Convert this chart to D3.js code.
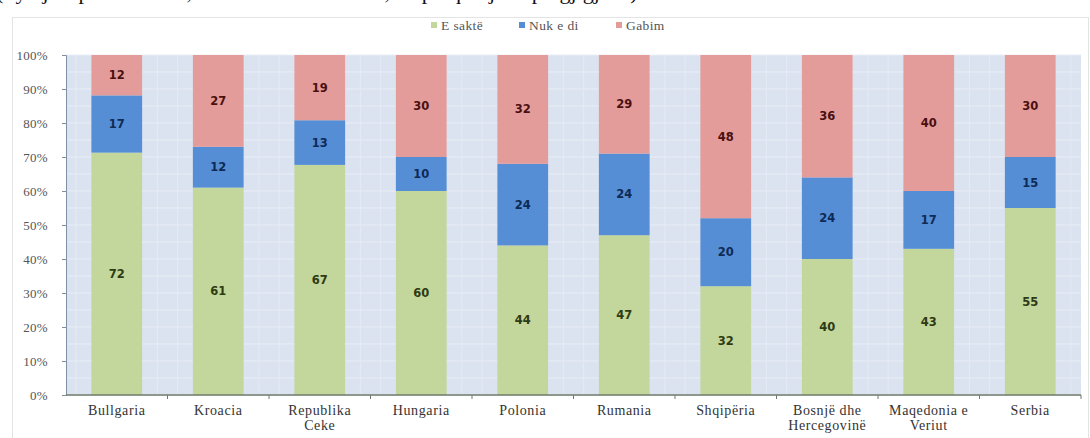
<!DOCTYPE html>
<html>
<head>
<meta charset="utf-8">
<script src="https://cdn.jsdelivr.net/npm/d3@7"></script>
<style>
  body { margin: 0; background: #fff; }
  svg { display: block; }
</style>
</head>
<body>
<div id="chart"></div>
<script>
// data
var categories = ['Bullgaria', 'Kroacia', 'Republika Ceke', 'Hungaria', 'Polonia',
  'Rumania', 'Shqipëria', 'Bosnjë dhe Hercegovinë', 'Maqedonia e Veriut', 'Serbia'];
var labelLines = [['Bullgaria'], ['Kroacia'], ['Republika', 'Ceke'], ['Hungaria'], ['Polonia'],
  ['Rumania'], ['Shqipëria'], ['Bosnjë dhe', 'Hercegovinë'], ['Maqedonia e', 'Veriut'], ['Serbia']];
var seriesNames = ['E saktë', 'Nuk e di', 'Gabim'];
var correct = [72, 61, 67, 60, 44, 47, 32, 40, 43, 55];
var dontKnow = [17, 12, 13, 10, 24, 24, 20, 24, 17, 15];
var wrong = [12, 27, 19, 30, 32, 29, 48, 36, 40, 30];
var yTicks = [0, 0.1, 0.2, 0.3, 0.4, 0.5, 0.6, 0.7, 0.8, 0.9, 1];

var fills = ['#c3d69b', '#558ed5', '#e49c9b'];
var labelColors = ['#2e3b12', '#0f2a55', '#4a1010'];
var SERIF = '"Liberation Serif", "DejaVu Serif", serif';

var W = 1090, H = 438;
var margin = { top: 55, right: 9, bottom: 43, left: 66 };
var width = W - margin.left - margin.right,
  height = H - margin.top - margin.bottom;

var table = categories.map(function (c, i) {
  return { cat: c, i: i, vals: [correct[i], dontKnow[i], wrong[i]] };
});

var svg = d3.select('#chart').append('svg')
  .attr('width', W)
  .attr('height', H);

// title line, cut off at the top edge as in the source image
svg.append('text')
  .attr('x', -4)
  .attr('y', -1)
  .style('font-family', SERIF)
  .style('font-size', '22px')
  .attr('fill', '#111')
  .text('(Pyetja sipas vendeve, në shkallë kombëtare, në përqindje të përgjigjeve)');

// chart frame
svg.append('rect')
  .attr('x', 12.5).attr('y', 17.5)
  .attr('width', W - 14).attr('height', H)
  .attr('fill', 'none').attr('stroke', '#e4e4e4');

var g = svg.append('g')
  .attr('transform', 'translate(' + margin.left + ',' + margin.top + ')');

var x = d3.scaleBand()
  .domain(categories)
  .range([0, width])
  .paddingInner(0.5)
  .paddingOuter(0.25);

var xb = d3.scaleBand().domain(categories).range([0, width]);

var y = d3.scaleLinear().domain([0, 1]).range([height, 0]);

// plot background and grid
g.append('rect')
  .attr('width', width).attr('height', height)
  .attr('fill', '#dbe3f0');

var minor = d3.range(0, 1.0001, 0.05);
g.selectAll('.hgrid')
  .data(minor)
  .enter().append('line')
  .attr('x1', 0).attr('x2', width)
  .attr('y1', function (d) { return y(d); })
  .attr('y2', function (d) { return y(d); })
  .attr('stroke', '#eaeef6').attr('stroke-width', 1);

var vpos = [];
categories.forEach(function (c) {
  var b = xb(c), s = xb.bandwidth();
  [0.1, 0.3, 0.5, 0.7, 0.9].forEach(function (f) { vpos.push(b + s * f); });
});
g.selectAll('.vgrid')
  .data(vpos)
  .enter().append('line')
  .attr('x1', function (d) { return d; }).attr('x2', function (d) { return d; })
  .attr('y1', 0).attr('y2', height)
  .attr('stroke', '#e6ebf5').attr('stroke-width', 1);

// stacked, normalised to 100%
var stacked = table.map(function (d) {
  var total = d3.sum(d.vals), acc = 0;
  return d.vals.map(function (v, k) {
    var seg = { cat: d.cat, k: k, v: v, y0: acc / total, y1: (acc + v) / total };
    acc += v;
    return seg;
  });
});
var segs = [].concat.apply([], stacked);

g.selectAll('.bar')
  .data(segs)
  .enter().append('rect')
  .attr('class', 'bar')
  .attr('x', function (d) { return x(d.cat); })
  .attr('width', x.bandwidth())
  .attr('y', function (d) { return y(d.y1); })
  .attr('height', function (d) { return y(d.y0) - y(d.y1); })
  .attr('fill', function (d) { return fills[d.k]; });

g.selectAll('.val')
  .data(segs)
  .enter().append('text')
  .attr('x', function (d) { return x(d.cat) + x.bandwidth() / 2; })
  .attr('y', function (d) { return y((d.y0 + d.y1) / 2); })
  .attr('dy', '0.35em')
  .attr('text-anchor', 'middle')
  .style('font-family', '"DejaVu Sans", sans-serif')
  .style('font-size', '11.5px')
  .style('font-weight', 'bold')
  .attr('fill', function (d) { return labelColors[d.k]; })
  .text(function (d) { return d.v; });

// axes
var yAxis = d3.axisLeft(y)
  .tickValues(yTicks)
  .tickFormat(d3.format('.0%'))
  .tickSize(4)
  .tickPadding(14);
var ya = g.append('g').call(yAxis).attr('font-family', null);
ya.select('.domain').attr('stroke', '#7f8fa6');
ya.selectAll('.tick line').attr('stroke', '#7f8fa6');
ya.selectAll('text')
  .style('font-family', SERIF)
  .style('font-size', '13px')
  .style('letter-spacing', '0.3px')
  .attr('fill', '#555');

var xa = g.append('g').attr('transform', 'translate(0,' + height + ')');
xa.append('line')
  .attr('x1', 0).attr('x2', width)
  .attr('stroke', '#6f7a6a').attr('stroke-width', 1.5);
xa.selectAll('.xt')
  .data(categories)
  .enter().append('line')
  .attr('x1', function (d) { return xb(d) + xb.bandwidth(); })
  .attr('x2', function (d) { return xb(d) + xb.bandwidth(); })
  .attr('y1', 0).attr('y2', 4)
  .attr('stroke', '#6f7a6a');

var lab = xa.selectAll('.xl')
  .data(table)
  .enter().append('text')
  .attr('text-anchor', 'middle')
  .style('font-family', SERIF)
  .style('font-size', '14px')
  .style('letter-spacing', '0.6px')
  .attr('fill', '#333')
  .attr('transform', function (d) { return 'translate(' + (xb(d.cat) + xb.bandwidth() / 2) + ',20)'; });
lab.selectAll('tspan')
  .data(function (d) { return labelLines[d.i]; })
  .enter().append('tspan')
  .attr('x', 0)
  .attr('dy', function (d, j) { return j === 0 ? 0 : 15; })
  .text(function (d) { return d; });

// legend
var legendX = [431, 519, 616];
var leg = svg.append('g').attr('transform', 'translate(0,25)');
seriesNames.forEach(function (n, k) {
  leg.append('rect')
    .attr('x', legendX[k]).attr('y', -3)
    .attr('width', 6).attr('height', 6)
    .attr('fill', fills[k]);
  leg.append('text')
    .attr('x', legendX[k] + 10).attr('y', 0)
    .attr('dy', '0.35em')
    .style('font-family', SERIF)
    .style('font-size', '13.5px')
    .style('letter-spacing', '0.4px')
    .attr('fill', '#555')
    .text(n);
});
</script>
</body>
</html>
